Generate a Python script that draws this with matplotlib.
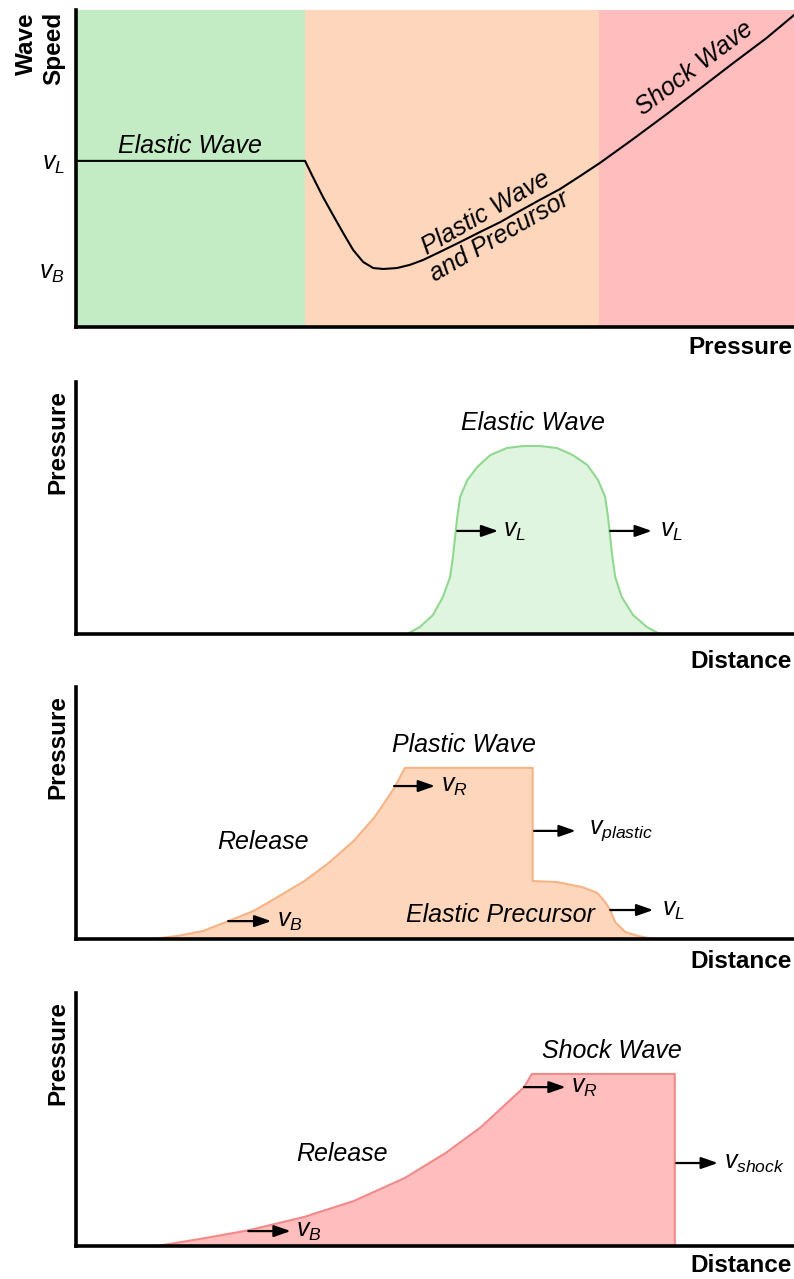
import matplotlib.pyplot as plt

plt.rcParams['font.family'] = ['Liberation Sans', 'DejaVu Sans']
plt.rcParams['mathtext.fontset'] = 'custom'
plt.rcParams['mathtext.rm'] = 'Liberation Sans'
plt.rcParams['mathtext.it'] = 'Liberation Sans:italic'

# --- panel 1: wave speed vs pressure ---
speed_x = [0.0, 3.19, 3.30, 3.44, 3.58, 3.72, 3.86, 4.00, 4.14, 4.28, 4.47, 4.65,
           4.83, 5.07, 5.35, 5.63, 5.91, 6.18, 6.46, 6.74, 7.02, 7.30, 7.76, 8.23,
           8.69, 9.15, 9.62, 10.0]
speed_y = [5.24, 5.24, 4.73, 4.10, 3.53, 2.97, 2.43, 2.05, 1.86, 1.83, 1.86, 1.96,
           2.11, 2.37, 2.68, 3.00, 3.31, 3.66, 4.01, 4.35, 4.76, 5.18, 5.93, 6.72,
           7.52, 8.32, 9.12, 9.84]
region_edges = [0.0, 3.19, 7.28, 10.0]
region_colors = ['#c3ecc5', '#fdd6bb', '#ffbdbd']
speed_ticks = [5.24, 1.80]
speed_ticklabels = ['$v_L$', '$v_B$']

# --- panel 2: elastic wave profile ---
elastic_x = [4.61, 4.79, 4.97, 5.11, 5.21, 5.25, 5.28, 5.31, 5.35, 5.45, 5.59, 5.77,
             6.00, 6.23, 6.46, 6.70, 6.92, 7.12, 7.27, 7.37, 7.41, 7.44, 7.47, 7.51,
             7.60, 7.76, 7.95, 8.13]
elastic_y = [0.0, 0.28, 0.75, 1.47, 2.26, 3.06, 3.85, 4.64, 5.44, 6.11, 6.63, 7.10,
             7.38, 7.46, 7.46, 7.38, 7.10, 6.71, 6.11, 5.44, 4.64, 3.85, 3.06, 2.26,
             1.47, 0.75, 0.28, 0.0]

# --- panel 3: plastic wave + elastic precursor profile ---
plastic_x = [1.06, 1.41, 1.77, 2.12, 2.47, 2.81, 3.18, 3.52, 3.87, 4.16, 4.43, 4.58,
             6.36, 6.36, 6.70, 7.05, 7.26, 7.37, 7.44, 7.51, 7.65, 7.83, 8.04]
plastic_y = [0.0, 0.12, 0.32, 0.71, 1.11, 1.67, 2.30, 3.02, 3.90, 4.84, 5.98, 6.79,
             6.79, 2.30, 2.26, 2.06, 1.83, 1.47, 1.15, 0.67, 0.28, 0.12, 0.0]

# --- panel 4: shock wave profile ---
shock_x = [1.13, 1.77, 2.40, 3.18, 3.87, 4.58, 5.15, 5.64, 5.99, 6.24, 6.35, 8.34, 8.34]
shock_y = [0.0, 0.30, 0.62, 1.15, 1.78, 2.69, 3.68, 4.70, 5.62, 6.28, 6.80, 6.80, 0.0]

W, H = 794, 1279
fig = plt.figure(figsize=(W / 100, H / 100), dpi=100)


def make_axes(top, bottom):
    ax = fig.add_axes([76 / W, 1 - bottom / H, 718 / W, (bottom - top) / H])
    ax.set_xlim(0, 10)
    ax.set_ylim(0, 10)
    for s in ['top', 'right']:
        ax.spines[s].set_visible(False)
    for s in ['left', 'bottom']:
        ax.spines[s].set_linewidth(2.6)
        ax.spines[s].set_zorder(5)
    ax.set_xticks([])
    ax.set_yticks([])
    return ax


def arrow(ax, x0, x1, y, label, lx):
    ax.annotate('', xy=(x1, y), xytext=(x0, y),
                arrowprops=dict(arrowstyle='-|>,head_length=1.0,head_width=0.35',
                                color='black', lw=1.6, shrinkA=0, shrinkB=0))
    ax.text(lx, y, label, fontsize=18, ha='left', va='center')


def italic(ax, x, y, s, **kw):
    ax.text(x, y, s, fontsize=18, style='italic', ha='center', va='center', **kw)


def side_labels(ylabel, ytop, xlabel, xlabel_y, ylabel_x=58, spacing=1.05):
    fig.text(ylabel_x / W, 1 - ytop / H, ylabel, rotation=90, fontsize=17.5,
             fontweight='bold', ha='center', va='top', multialignment='right',
             linespacing=spacing)
    fig.text(792 / W, 1 - xlabel_y / H, xlabel, fontsize=17.5, fontweight='bold',
             ha='right', va='center')


# panel 1
ax1 = make_axes(10, 327)
for i in range(len(region_colors)):
    ax1.axvspan(region_edges[i], region_edges[i + 1], color=region_colors[i], lw=0)
ax1.plot(speed_x, speed_y, color='black', lw=1.5)
ax1.set_yticks(speed_ticks)
ax1.set_yticklabels(speed_ticklabels, fontsize=18)
ax1.tick_params(axis='y', length=0, pad=8)
italic(ax1, 1.59, 5.71, 'Elastic Wave')
italic(ax1, 5.80, 3.23, 'Plastic Wave\nand Precursor', rotation=30, linespacing=1.15)
italic(ax1, 8.62, 8.17, 'Shock Wave', rotation=37)
side_labels('Wave\nSpeed', 12, 'Pressure', 347, ylabel_x=40, spacing=1.25)

# panel 2
ax2 = make_axes(382, 634)
ax2.fill(elastic_x, elastic_y, facecolor='#dff5df', edgecolor='#90d890', lw=1.5)
arrow(ax2, 5.31, 5.88, 4.09, '$v_L$', 5.95)
arrow(ax2, 7.44, 8.02, 4.09, '$v_L$', 8.14)
italic(ax2, 6.36, 8.37, 'Elastic Wave')
side_labels('Pressure', 390, 'Distance', 661)

# panel 3
ax3 = make_axes(687, 939)
ax3.fill(plastic_x, plastic_y, facecolor='#fdd6bb', edgecolor='#f6b486', lw=1.5)
arrow(ax3, 2.12, 2.72, 0.71, '$v_B$', 2.80)
arrow(ax3, 4.43, 5.00, 6.07, '$v_R$', 5.08)
arrow(ax3, 6.38, 6.96, 4.29, '$v_{plastic}$', 7.14)
arrow(ax3, 7.44, 8.04, 1.15, '$v_L$', 8.16)
italic(ax3, 5.40, 7.70, 'Plastic Wave')
italic(ax3, 2.60, 3.85, 'Release')
italic(ax3, 5.91, 0.95, 'Elastic Precursor')
side_labels('Pressure', 695, 'Distance', 962)

# panel 4
ax4 = make_axes(993, 1246)
ax4.fill(shock_x, shock_y, facecolor='#ffbdbd', edgecolor='#f28a8a', lw=1.5)
arrow(ax4, 2.40, 2.99, 0.59, '$v_B$', 3.06)
arrow(ax4, 6.24, 6.82, 6.28, '$v_R$', 6.89)
arrow(ax4, 8.36, 8.94, 3.28, '$v_{shock}$', 9.02)
italic(ax4, 7.47, 7.71, 'Shock Wave')
italic(ax4, 3.70, 3.64, 'Release')
side_labels('Pressure', 1001, 'Distance', 1265)

fig.savefig('out.png', dpi=100)
